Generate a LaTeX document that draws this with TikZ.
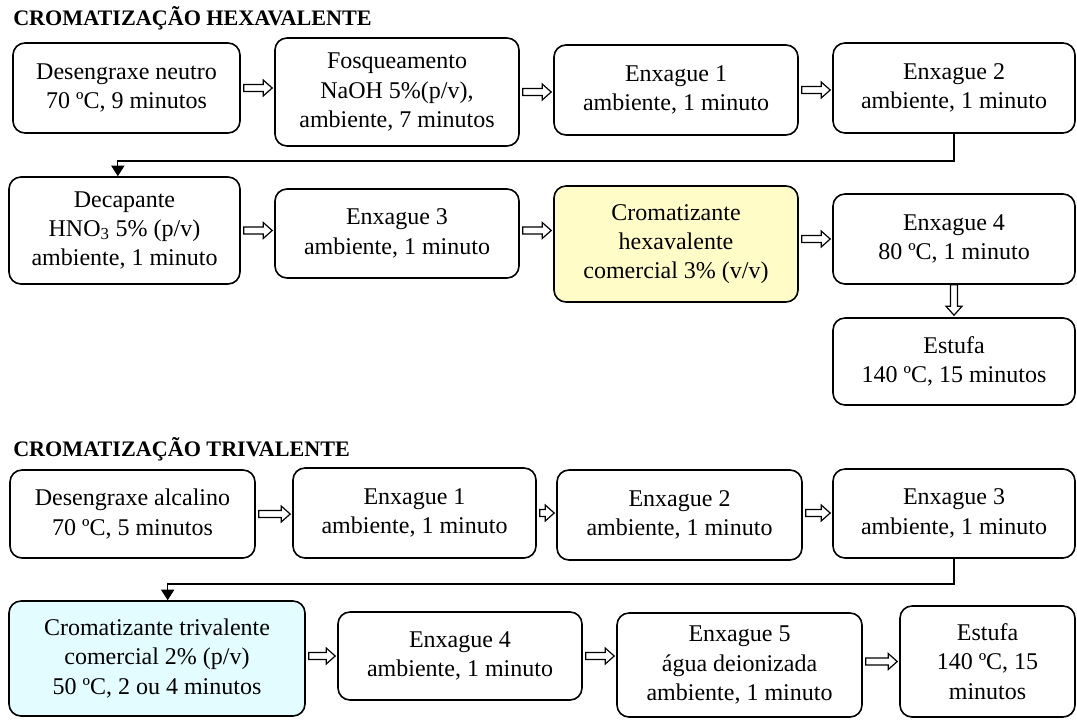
\documentclass[tikz,border=0pt]{standalone}
\usepackage{fontspec}
\setmainfont{Liberation Serif}
\usetikzlibrary{calc,arrows.meta}
\definecolor{hexfill}{RGB}{255,252,200}
\definecolor{trifill}{RGB}{226,252,255}
\tikzset{
  box/.style 2 args={draw, rounded corners=9pt, line width=1.2pt, align=center,
    inner sep=0pt, minimum width=#1*0.75pt, minimum height=#2*0.75pt,
    font=\fontsize{18}{22}\selectfont},
  ttl/.style={anchor=base west, inner sep=0pt, font=\fontsize{16.6}{18}\selectfont\bfseries},
  harrow/.style={draw, fill=white, line width=0.9pt, to path={
    let \p1=(\tikztostart), \p2=(\tikztotarget) in
    (\x1+2.25pt,\y1+2.6pt) -- (\x2-8.25pt,\y1+2.6pt) -- (\x2-8.25pt,\y1+6pt) --
    (\x2-1.5pt,\y1) -- (\x2-8.25pt,\y1-6pt) -- (\x2-8.25pt,\y1-2.6pt) --
    (\x1+2.25pt,\y1-2.6pt) -- cycle}},
  varrow/.style={draw, fill=white, line width=0.9pt, to path={
    let \p1=(\tikztostart), \p2=(\tikztotarget) in
    (\x1-2.6pt,\y1) -- (\x1-2.6pt,\y2+8.25pt) -- (\x1-6pt,\y2+8.25pt) --
    (\x1,\y2+1.5pt) -- (\x1+6pt,\y2+8.25pt) -- (\x1+2.6pt,\y2+8.25pt) --
    (\x1+2.6pt,\y1) -- cycle}},
  conn/.style={draw, line width=0.9pt, -{Triangle[width=10pt,length=8pt]}}
}
\begin{document}
\begin{tikzpicture}[x=0.75pt,y=-0.75pt]
\useasboundingbox (0,0) rectangle (1077,719);
% ---------- Hexavalente ----------
\node[ttl] (t1) at (13,25) {CROMATIZAÇÃO HEXAVALENTE};
\node[box={227}{90}] (b1) at (126.5,88) {Desengraxe neutro\\70 ºC, 9 minutos};
\node[box={244}{108}] (b2) at (397,92) {Fosqueamento\\NaOH 5\%(p/v),\\ambiente, 7 minutos};
\node[box={244}{90}] (b3) at (676,90) {Enxague 1\\ambiente, 1 minuto};
\node[box={242}{90}] (b4) at (954,88) {Enxague 2\\ambiente, 1 minuto};
\node[box={231}{107}] (b5) at (124.5,230.5) {Decapante\\HNO\textsubscript{3} 5\% (p/v)\\ambiente, 1 minuto};
\node[box={244}{89}] (b6) at (397,233.5) {Enxague 3\\ambiente, 1 minuto};
\node[box={244}{116}, fill=hexfill] (b7) at (676,244) {Cromatizante\\hexavalente\\comercial 3\% (v/v)};
\node[box={242}{90}] (b8) at (954,239) {Enxague 4\\80 ºC, 1 minuto};
\node[box={242}{87}] (b9) at (954,361.5) {Estufa\\140 ºC, 15 minutos};
\draw[harrow] (b1.east) to (b2.west);
\draw[harrow] (b2.east) to (b3.west);
\draw[harrow] (b3.east) to (b4.west);
\draw[harrow] (b5.east) to (b6.west);
\draw[harrow] (b6.east |- b5.east) to (b7.west);
\draw[harrow] (b7.east |- b8.west) to (b8.west);
\draw[varrow] (b8.south) to (b9.north);
\draw[conn] (b4.south) -- (b4.south |- 0,161) -| ([xshift=-5pt]b5.north);
% ---------- Trivalente ----------
\node[ttl] (t2) at (13,456) {CROMATIZAÇÃO TRIVALENTE};
\node[box={245}{88}] (c1) at (132.5,514) {Desengraxe alcalino\\70 ºC, 5 minutos};
\node[box={243}{90}] (c2) at (414.5,513) {Enxague 1\\ambiente, 1 minuto};
\node[box={245}{90}] (c3) at (679.5,515) {Enxague 2\\ambiente, 1 minuto};
\node[box={242}{89}] (c4) at (954,513.5) {Enxague 3\\ambiente, 1 minuto};
\node[box={296}{115}, fill=trifill] (c5) at (157,658.5) {Cromatizante trivalente\\comercial 2\% (p/v)\\50 ºC, 2 ou 4 minutos};
\node[box={244}{88}] (c6) at (460,656) {Enxague 4\\ambiente, 1 minuto};
\node[box={245}{104}] (c7) at (739.5,665) {Enxague 5\\água deionizada\\ambiente, 1 minuto};
\node[box={175}{111}] (c8) at (987.5,661.5) {Estufa\\140 ºC, 15\\minutos};
\draw[harrow] (c1.east) to (c2.west);
\draw[harrow] (c2.east) to (c3.west);
\draw[harrow] (c3.east |- c2.east) to (c4.west);
\draw[harrow] (c5.east |- c6.west) to (c6.west);
\draw[harrow] (c6.east) to (c7.west);
\draw[harrow] (c7.east |- c8.west) to (c8.west);
\draw[conn] (c4.south) -- (c4.south |- 0,584) -| ([xshift=8pt]c5.north);
\end{tikzpicture}
\end{document}
